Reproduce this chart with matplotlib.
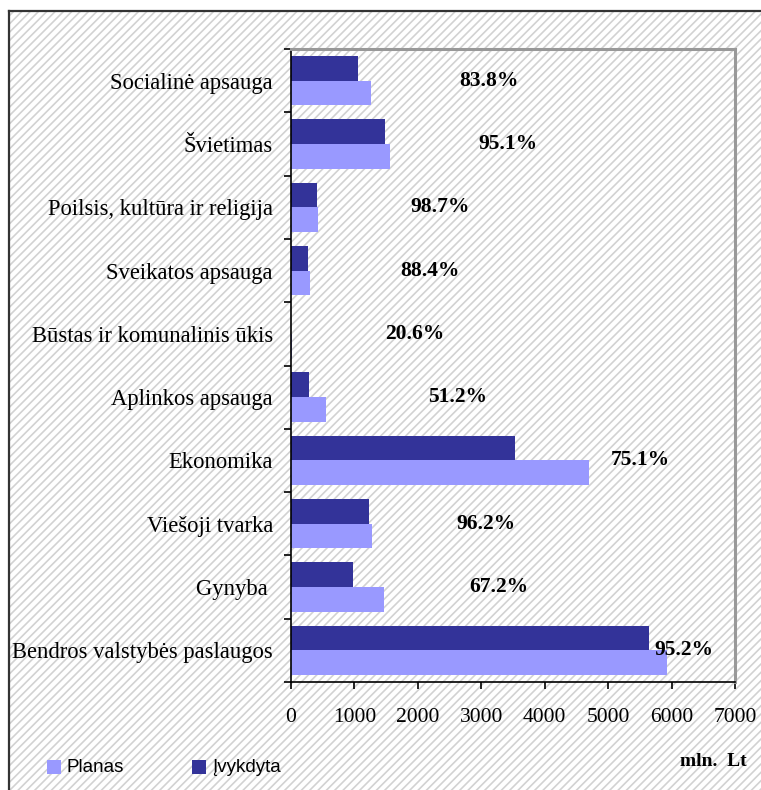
import numpy as np
import matplotlib
matplotlib.use('Agg')
from matplotlib import pyplot as plt
from matplotlib.patches import Rectangle
from matplotlib.lines import Line2D

# categories from bottom to top
categories = ['Bendros valstybės paslaugos', 'Gynyba ', 'Viešoji tvarka', 'Ekonomika',
              'Aplinkos apsauga', 'Būstas ir komunalinis ūkis', 'Sveikatos apsauga',
              'Poilsis, kultūra ir religija', 'Švietimas', 'Socialinė apsauga']
planas = [5928, 1466, 1277, 4698, 552, 10, 300, 426, 1561, 1261]
ivykdyta = [5644, 977, 1230, 3531, 284, 2, 268, 410, 1482, 1056]
pct_labels = ['95.2%', '67.2%', '96.2%', '75.1%', '51.2%', '20.6%', '88.4%', '98.7%', '95.1%', '83.8%']
pct_x = [6196, 3279, 3074, 5502, 2633, 1955, 2191, 2349, 3421, 3122]
xticks = [0, 1000, 2000, 3000, 4000, 5000, 6000, 7000]

plt.rcParams['hatch.linewidth'] = 1.2
serif = 'Liberation Serif'

fig = plt.figure(figsize=(7.61, 7.90), dpi=100)
fig.patch.set_facecolor('white')

# hatched background inside the outer frame
W, H = 761.0, 790.0
bg = Rectangle((9 / W, 0), 1 - 9 / W, 1 - 11 / H, transform=fig.transFigure,
               facecolor='white', edgecolor='#d2d2d2', hatch='////', linewidth=0, zorder=-5)
fig.patches.append(bg)
fig.lines.append(Line2D([9 / W, 1], [1 - 11 / H, 1 - 11 / H], transform=fig.transFigure,
                        color='#333333', lw=1.6))
fig.lines.append(Line2D([9 / W, 9 / W], [0, 1 - 11 / H], transform=fig.transFigure,
                        color='#333333', lw=1.6))

ax = fig.add_axes([291 / W, 1 - 682 / H, (735 - 291) / W, (682 - 49) / H])
ax.set_facecolor('none')

y = np.arange(len(categories))
h = 0.39
ax.barh(y - h / 2, planas, height=h, color='#9999ff', label='Planas')
ax.barh(y + h / 2, ivykdyta, height=h, color='#333399', label='Įvykdyta')

for i in range(len(categories)):
    ax.text(pct_x[i], y[i], pct_labels[i], ha='center', va='center',
            fontsize=15.5, fontweight='bold', family=serif)

ax.set_xlim(0, 7000)
ax.set_ylim(-0.5, len(categories) - 0.5)
ax.set_xticks(xticks)
ax.set_xticklabels([str(t) for t in xticks], family=serif, fontsize=15.5)
ax.set_yticks(y)
ax.set_yticklabels(categories, family=serif, fontsize=16.3)
ax.set_yticks(np.arange(-0.5, len(categories), 1.0), minor=True)
ax.tick_params(axis='y', which='major', length=0, pad=13)
ax.tick_params(axis='y', which='minor', length=5, width=1.2, direction='out')
ax.tick_params(axis='x', length=5, width=1.2, direction='out', pad=14)

for s in ['left', 'bottom']:
    ax.spines[s].set_color('black')
    ax.spines[s].set_linewidth(1.2)
for s in ['top', 'right']:
    ax.spines[s].set_color('#999999')
    ax.spines[s].set_linewidth(2.2)

# legend drawn as separate boxes and text
fig.patches.append(Rectangle((47 / W, 1 - 774 / H), 14 / W, 14 / H, transform=fig.transFigure,
                             facecolor='#9999ff', edgecolor='none'))
fig.text(66 / W, 1 - 768 / H, 'Planas', family='Liberation Sans', fontsize=13.5, va='center')
fig.patches.append(Rectangle((192 / W, 1 - 774 / H), 14 / W, 14 / H, transform=fig.transFigure,
                             facecolor='#333399', edgecolor='none'))
fig.text(212 / W, 1 - 768 / H, 'Įvykdyta', family='Liberation Sans', fontsize=13.5, va='center')
fig.text(747 / W, 1 - 761 / H, 'mln.  Lt', family=serif, fontsize=14, fontweight='bold',
         ha='right', va='center')

fig.savefig('out.png', dpi=100)
